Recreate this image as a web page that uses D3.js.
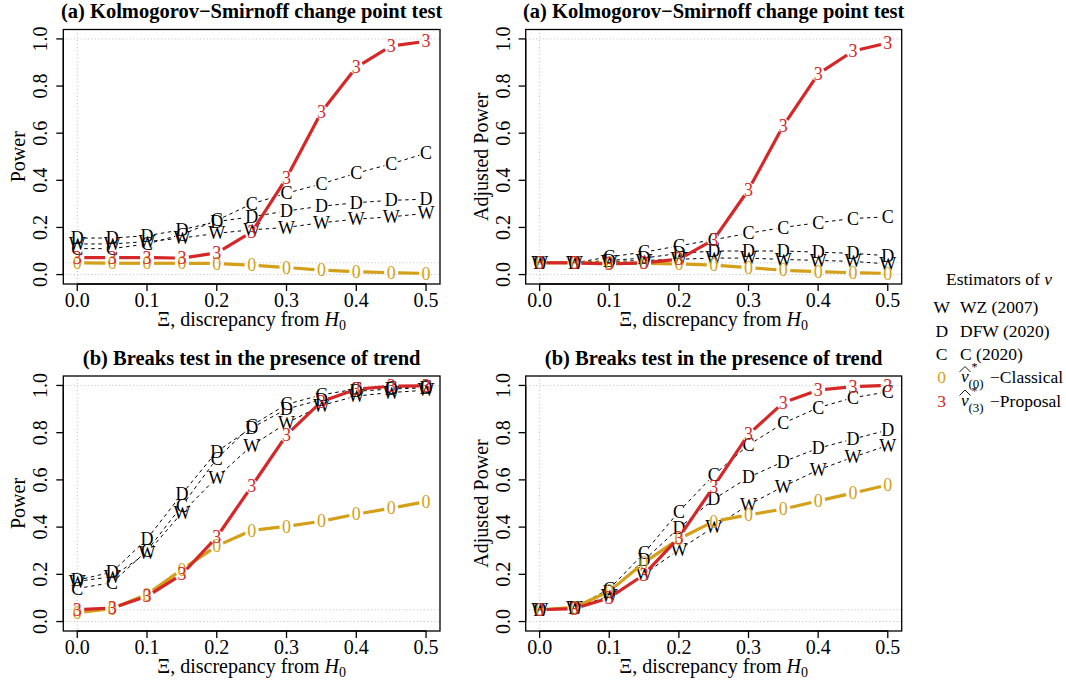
<!DOCTYPE html>
<html><head><meta charset="utf-8">
<script src="https://cdn.jsdelivr.net/npm/d3@7"></script>
<style>
body{margin:0;background:#fff}
svg text{font-family:"Liberation Serif","Times New Roman",Times,serif;fill:#000}
</style>
</head><body><svg id="c" width="1066" height="683" font-family="Liberation Serif, Times New Roman, Times, serif"></svg>
<script>
// ---------- data ----------
const xs = [0,0.05,0.1,0.15,0.2,0.25,0.3,0.35,0.4,0.45,0.5];
const xTicks = [0,0.1,0.2,0.3,0.4,0.5];
const yTicks = [0,0.2,0.4,0.6,0.8,1.0];
const refH = [0,0.05,1];
const refV = [0];

// (a) KS change point test - Power
const W1 = [0.13,0.13,0.14,0.155,0.175,0.19,0.20,0.22,0.235,0.245,0.26];
const D1 = [0.155,0.155,0.165,0.19,0.225,0.245,0.27,0.29,0.305,0.315,0.32];
const C1 = [0.11,0.11,0.13,0.17,0.23,0.30,0.345,0.385,0.43,0.47,0.515];
const Z1 = [0.05,0.048,0.048,0.048,0.047,0.04,0.03,0.019,0.012,0.008,0.005];
const T1 = [0.072,0.072,0.072,0.07,0.092,0.18,0.41,0.69,0.88,0.97,0.99];
// (a) KS change point test - Adjusted Power
const W2 = [0.05,0.05,0.055,0.06,0.065,0.07,0.07,0.064,0.06,0.056,0.045];
const D2 = [0.05,0.05,0.06,0.07,0.09,0.1,0.1,0.1,0.095,0.09,0.08];
const C2 = [0.05,0.05,0.075,0.095,0.122,0.148,0.175,0.2,0.22,0.238,0.245];
const Z2 = [0.05,0.05,0.048,0.048,0.045,0.04,0.03,0.018,0.012,0.008,0.005];
const T2 = [0.05,0.05,0.045,0.05,0.065,0.148,0.36,0.632,0.851,0.948,0.983];
// (b) Breaks test with trend - Power
const W3 = [0.17,0.19,0.29,0.46,0.61,0.745,0.84,0.915,0.955,0.97,0.98];
const D3 = [0.175,0.21,0.35,0.54,0.72,0.82,0.90,0.94,0.975,0.985,0.99];
const C3 = [0.14,0.165,0.30,0.49,0.69,0.83,0.92,0.96,0.985,0.99,0.995];
const Z3 = [0.037,0.055,0.115,0.22,0.32,0.386,0.403,0.425,0.455,0.48,0.508];
const T3 = [0.05,0.058,0.107,0.2,0.358,0.573,0.79,0.932,0.984,0.997,0.998];
// (b) Breaks test with trend - Adjusted Power
const W4 = [0.05,0.06,0.107,0.2,0.304,0.4,0.494,0.572,0.642,0.696,0.746];
const D4 = [0.05,0.06,0.125,0.26,0.396,0.518,0.611,0.677,0.734,0.773,0.811];
const C4 = [0.05,0.06,0.138,0.29,0.466,0.62,0.748,0.84,0.906,0.948,0.973];
const Z4 = [0.05,0.06,0.128,0.25,0.35,0.424,0.452,0.476,0.511,0.544,0.579];
const T4 = [0.05,0.055,0.1,0.199,0.356,0.572,0.793,0.927,0.98,0.995,1.0];

const titles = ["(a) Kolmogorov\u2212Smirnoff change point test","(a) Kolmogorov\u2212Smirnoff change point test",
                "(b) Breaks test in the presence of trend","(b) Breaks test in the presence of trend"];
const yLabels = ["Power","Adjusted Power","Power","Adjusted Power"];
const seriesSets = [[W1,D1,C1,Z1,T1],[W2,D2,C2,Z2,T2],[W3,D3,C3,Z3,T3],[W4,D4,C4,Z4,T4]];
const seriesChars = ["W","D","C","0","3"];
const legendNames = ["WZ (2007)","DFW (2020)","C (2020)","\u2212Classical","\u2212Proposal"];

// ---------- styles / layout ----------
const RED = "#d62728", GOLD = "#d4a019";
const styles = [
  {color:"#000", width:1, dash:"3.5,3.5"},
  {color:"#000", width:1, dash:"3.5,3.5"},
  {color:"#000", width:1, dash:"3.5,3.5"},
  {color:GOLD, width:3.2, dash:null},
  {color:RED, width:3.2, dash:null}
];
const boxes = [
  {x0:63.3, x1:440, y0:29.5, y1:284},
  {x0:525.7, x1:901.7, y0:29.5, y1:284},
  {x0:63.3, x1:440, y0:376, y1:631},
  {x0:525.7, x1:901.7, y0:376, y1:631}
];
const FONT = 20, PCH = 18, GAP = 7;

const svg = d3.select("#c");

boxes.forEach((b, i) => {
  const g = svg.append("g");
  const x = d3.scaleLinear().domain([-0.02, 0.52]).range([b.x0, b.x1]);
  const y = d3.scaleLinear().domain([-0.04, 1.04]).range([b.y1, b.y0]);

  // reference dotted lines
  g.selectAll(".rh").data(refH).join("line")
    .attr("x1", b.x0).attr("x2", b.x1).attr("y1", d => y(d)).attr("y2", d => y(d))
    .attr("stroke", "#bdbdbd").attr("stroke-width", 1).attr("stroke-dasharray", "1,2.5");
  g.selectAll(".rv").data(refV).join("line")
    .attr("y1", b.y0).attr("y2", b.y1).attr("x1", d => x(d)).attr("x2", d => x(d))
    .attr("stroke", "#bdbdbd").attr("stroke-width", 1).attr("stroke-dasharray", "1,2.5");

  // series (type = "b": lines with gaps around the characters)
  const sets = seriesSets[i];
  sets.forEach((vals, s) => {
    const st = styles[s];
    const pts = vals.map((v, k) => [x(xs[k]), y(v)]);
    const segs = [];
    for (let k = 0; k < pts.length - 1; k++) {
      const [ax, ay] = pts[k], [bx, by] = pts[k+1];
      const dx = bx - ax, dy = by - ay, d = Math.hypot(dx, dy);
      if (d <= 2 * GAP) continue;
      const ux = dx / d, uy = dy / d;
      segs.push([[ax + ux*GAP, ay + uy*GAP],[bx - ux*GAP, by - uy*GAP]]);
    }
    g.append("g").selectAll("path").data(segs).join("path")
      .attr("d", d3.line())
      .attr("fill", "none").attr("stroke", st.color).attr("stroke-width", st.width)
      .attr("stroke-dasharray", st.dash);
    g.append("g").selectAll("text").data(vals).join("text")
      .attr("x", (v, k) => x(xs[k])).attr("y", v => y(v))
      .attr("dy", "0.34em").attr("text-anchor", "middle")
      .style("font-size", PCH + "px").style("fill", st.color)
      .text(seriesChars[s]);
  });

  // box
  g.append("rect").attr("x", b.x0).attr("y", b.y0).attr("width", b.x1 - b.x0).attr("height", b.y1 - b.y0)
    .attr("fill", "none").attr("stroke", "#000").attr("stroke-width", 1.3);

  // x axis
  const xa = g.append("g");
  xa.append("line").attr("x1", x(0)).attr("x2", x(0.5)).attr("y1", b.y1).attr("y2", b.y1)
    .attr("stroke", "#000").attr("stroke-width", 1.3);
  xa.selectAll("line.t").data(xTicks).join("line").attr("class","t")
    .attr("x1", d => x(d)).attr("x2", d => x(d)).attr("y1", b.y1).attr("y2", b.y1 + 7)
    .attr("stroke", "#000").attr("stroke-width", 1.3);
  xa.selectAll("text").data(xTicks).join("text")
    .attr("x", d => x(d)).attr("y", b.y1 + 23).attr("text-anchor", "middle")
    .style("font-size", FONT + "px").text(d => d3.format(".1f")(d));

  // y axis
  const ya = g.append("g");
  ya.append("line").attr("x1", b.x0).attr("x2", b.x0).attr("y1", y(0)).attr("y2", y(1))
    .attr("stroke", "#000").attr("stroke-width", 1.3);
  ya.selectAll("line.t").data(yTicks).join("line").attr("class","t")
    .attr("y1", d => y(d)).attr("y2", d => y(d)).attr("x1", b.x0).attr("x2", b.x0 - 7)
    .attr("stroke", "#000").attr("stroke-width", 1.3);
  ya.selectAll("text").data(yTicks).join("text")
    .attr("transform", d => `translate(${b.x0 - 16},${y(d)}) rotate(-90)`)
    .attr("text-anchor", "middle")
    .style("font-size", FONT + "px").text(d => d3.format(".1f")(d));

  // labels
  g.append("text").attr("x", (b.x0 + b.x1)/2).attr("y", b.y0 - 11.5).attr("text-anchor", "middle")
    .style("font-size", "20.5px").style("font-weight", "bold").text(titles[i]);
  g.append("text").attr("transform", `translate(${b.x0 - 38},${(b.y0 + b.y1)/2}) rotate(-90)`)
    .attr("text-anchor", "middle").style("font-size", FONT + "px").text(yLabels[i]);
  const xl = g.append("text").attr("x", (b.x0 + b.x1)/2).attr("y", b.y1 + 42)
    .attr("text-anchor", "middle").style("font-size", FONT + "px");
  xl.append("tspan").text("\u039E, discrepancy from ");
  xl.append("tspan").style("font-style", "italic").text("H");
  xl.append("tspan").attr("dy", 4).style("font-size", "14px").text("0");
});

// ---------- legend ----------
const leg = svg.append("g");
const lt = leg.append("text").attr("x", 946).attr("y", 285).style("font-size", "17.5px");
lt.append("tspan").text("Estimators of ");
lt.append("tspan").style("font-style", "italic").text("\u03BD");
const rowY = [313, 336.5, 360, 383, 406.5];
seriesChars.forEach((ch, s) => {
  const yy = rowY[s];
  leg.append("text").attr("x", 941.7).attr("y", yy).attr("text-anchor", "middle")
    .style("font-size", "17.5px").style("fill", styles[s].color).text(ch);
  if (s < 3) {
    leg.append("text").attr("x", 960).attr("y", yy).style("font-size", "17.5px").text(legendNames[s]);
  } else {
    const sub = s === 3 ? "(0)" : "(3)";
    leg.append("path").attr("d", `M959.5,${yy-11} L965,${yy-16.5} L970.5,${yy-11}`)
      .attr("fill", "none").attr("stroke", "#000").attr("stroke-width", 0.9);
    leg.append("text").attr("x", 961).attr("y", yy - 1).style("font-size", "17.5px")
      .style("font-style", "italic").text("v");
    leg.append("text").attr("x", 971.5).attr("y", yy - 12).style("font-size", "12px").text("*");
    leg.append("text").attr("x", 968.5).attr("y", yy + 5).style("font-size", "13px").text(sub);
    leg.append("text").attr("x", 990).attr("y", yy).style("font-size", "17.5px").text(legendNames[s]);
  }
});
</script>
</body></html>
